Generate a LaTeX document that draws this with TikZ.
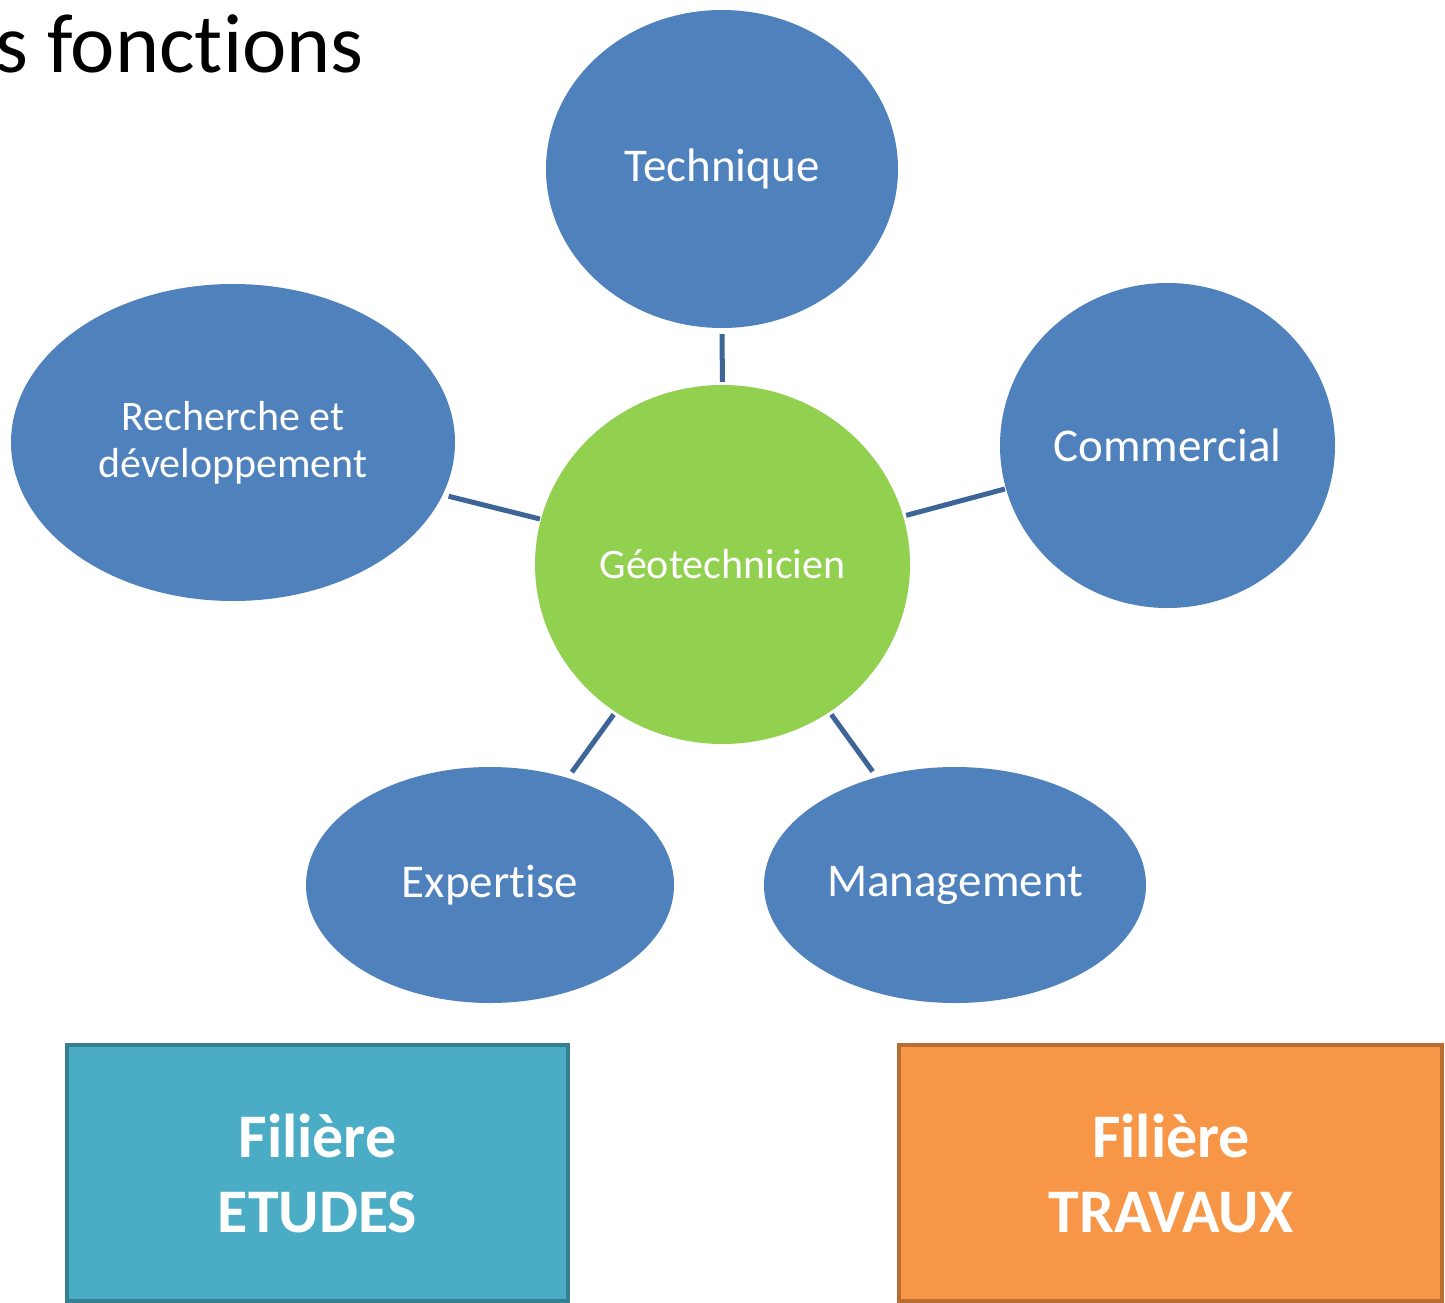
\documentclass[tikz,border=0pt]{standalone}
\usepackage{fontspec}
\setmainfont{Carlito}[Ligatures={NoCommon,NoRare,NoContextual},Contextuals=NoAlternate]
\usetikzlibrary{shapes.geometric}
\definecolor{bubble}{HTML}{4F81BD}
\definecolor{geo}{HTML}{92D050}
\definecolor{link}{HTML}{3D6597}
\definecolor{etfill}{HTML}{4BACC6}
\definecolor{etline}{HTML}{357F91}
\definecolor{trfill}{HTML}{F79646}
\definecolor{trline}{HTML}{B86D33}
\tikzset{
  bub/.style={ellipse, fill=bubble, draw=none, inner sep=0pt, text=white, align=center, font=\fontsize{47}{52}\selectfont},
  center/.style={ellipse, fill=geo, draw=none, inner sep=0pt, text=white, font=\fontsize{42}{47}\selectfont},
  link/.style={draw=link, line width=5pt},
  filiere/.style={line width=4pt, text=white, align=center, font=\bfseries\fontsize{62}{75}\selectfont}
}
\begin{document}
\begin{tikzpicture}[x=1pt,y=-1pt]
\useasboundingbox (0,0) rectangle (1445,1303);
\clip (0,0) rectangle (1445,1303);
\fill[white] (0,0) rectangle (1445,1303);
% title
\node[anchor=base west, inner sep=0pt, font=\fontsize{84}{100}\selectfont] (title) at (-5,73) {s fonct\kern0pt ions};
% bubbles
\node[center, minimum width=375pt, minimum height=359pt] (geo) at (722.5,564.5) {Géotechnicien};
\node[bub, minimum width=352pt, minimum height=318pt] (tech) at (722,169) {Technique};
\node[bub, minimum width=335pt, minimum height=325pt] (comm) at (1167.5,445.5) {Commercial};
\node[bub, minimum width=444pt, minimum height=317pt, font=\fontsize{42}{47}\selectfont] (rech) at (233,442.5) {Recherche et\\développement};
\node[bub, minimum width=368pt, minimum height=236pt] (exp) at (490,885) {Expert\kern0pt ise};
\node[bub, minimum width=382pt, minimum height=236pt] (man) at (955,885) {Management};
% connectors
\draw[link, shorten <=3pt, shorten >=6pt] (geo) -- (tech);
\draw[link, shorten <=3pt, shorten >=1pt] (geo) -- (comm);
\draw[link, shorten <=1pt, shorten >=6pt] (geo) -- (rech);
\draw[link, shorten <=3pt, shorten >=7pt] (geo) -- (exp);
\draw[link, shorten <=3pt, shorten >=7pt] (geo) -- (man);
% boxes
\draw[filiere, fill=etfill, draw=etline] (67,1045) rectangle (568,1301);
\node[filiere] (etudes) at (317.5,1173) {Filière\\ETUDES};
\draw[filiere, fill=trfill, draw=trline] (899,1045) rectangle (1442,1301);
\node[filiere] (travaux) at (1171,1173) {Filière\\TRAVAUX};
\end{tikzpicture}
\end{document}
